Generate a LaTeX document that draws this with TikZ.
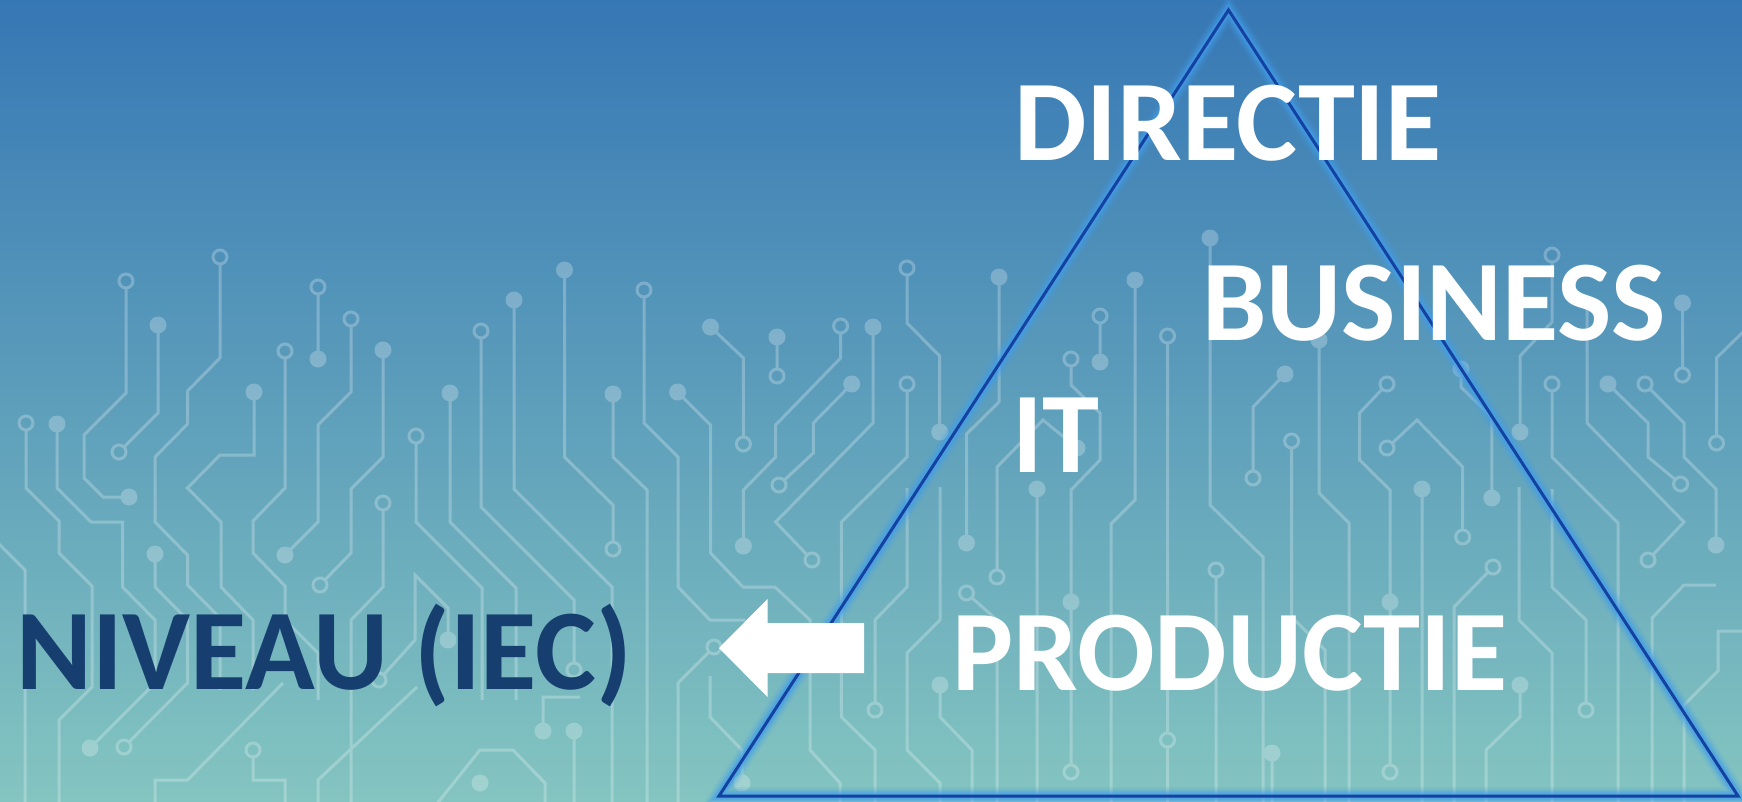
\documentclass[tikz,border=0pt]{standalone}
\usepackage{fontspec}
\newfontfamily\carl{Carlito}
\definecolor{bgtop}{RGB}{54,119,181}
\definecolor{bgbot}{RGB}{132,197,193}
\definecolor{navy}{RGB}{22,63,112}
\definecolor{glowc}{RGB}{66,158,234}
\definecolor{coreblue}{RGB}{20,66,162}
\newcommand\bigfont{\carl\bfseries\fontsize{115}{130}\selectfont}
\newcommand\rg[2]{\draw[draw=white, line width=3pt] (#1,#2) circle[radius=7];}
\newcommand\dt[2]{\fill[fill=white] (#1,#2) circle[radius=8.5];}
\tikzset{
  tr/.style={draw=white, line width=3pt},
  sr/.style={shorten <=7pt},
  er/.style={shorten >=7pt},
  txt/.style={anchor=base, inner sep=0pt, font=\bigfont, text=white},
}
\begin{document}
\begin{tikzpicture}[x=1pt,y=-1pt]
\useasboundingbox (0,0) rectangle (1742,801);
\clip (0,0) rectangle (1742,801);
\shade[top color=bgtop, bottom color=bgbot] (0,0) rectangle (1742,801);

% circuit pattern
\begin{scope}[transparency group, opacity=0.25]
\begin{scope}[color=white]
% left part
\draw[tr,sr] (26,423) -- (26,488) -- (59,521) -- (59,553) -- (92,586) -- (92,687) -- (59,720) -- (59,810); \rg{26}{423}
\draw[tr] (57,424) -- (57,488) -- (91,522) -- (122.5,522) -- (122.5,587) -- (155,620) -- (155,683) -- (90,748); \dt{57}{424} \dt{90}{748}
\draw[tr] (-5,540) -- (25,570) -- (25,810);
\draw[tr,sr] (126,281) -- (126,393) -- (84,435) -- (84,478) -- (103,497) -- (129,497); \rg{126}{281} \dt{129}{497}
\draw[tr,er] (158,325) -- (158,413) -- (119,452); \dt{158}{325} \rg{119}{452}
\draw[tr,sr] (220,257) -- (220,358) -- (187.5,391) -- (187.5,424) -- (155,457) -- (155,522) -- (187.5,555) -- (187.5,585) -- (220,618) -- (220,690); \rg{220}{257}
\draw[tr,er] (155,554) -- (155,587) -- (187.5,620) -- (187.5,683) -- (124,747); \dt{155}{554} \rg{124}{747}
\draw[tr] (254,392) -- (254,455) -- (220,455) -- (187.5,488) -- (221,522) -- (221,587) -- (253,620) -- (253,690); \dt{254}{392}
\draw[tr,sr] (253,750) -- (253,780) -- (285,780) -- (285,810); \rg{253}{750}
\draw[tr,sr] (285,351) -- (285,488) -- (253,521) -- (253,553) -- (285,586) -- (285,620) -- (318,653) -- (318,700); \rg{285}{351}
\draw[tr,sr] (318,287) -- (318,359); \rg{318}{287} \dt{318}{359}
\draw[tr,sr] (351,319) -- (351,392) -- (318,425) -- (318,522) -- (285,555); \rg{351}{319} \dt{285}{555}
\draw[tr,er] (383,350) -- (383,457) -- (351,489) -- (351,553) -- (320,585); \dt{383}{350} \rg{320}{585}
\draw[tr,sr] (383,503) -- (383,587) -- (351,620) -- (351,810); \rg{383}{503}
\draw[tr,sr] (416,436) -- (416,522) -- (482,588) -- (482,700); \rg{416}{436}
\draw[tr] (450,393) -- (450,522) -- (516,588) -- (516,700); \dt{450}{393}
\draw[tr,sr,er] (481,331) -- (481,507) -- (574,600) -- (574,670); \rg{481}{331} \rg{574}{670}
\draw[tr] (543,731) -- (543,697) -- (580,697); \dt{543}{731}
\draw[tr] (574,731) -- (574,810); \dt{574}{731}
\draw[tr] (514,300) -- (514,489) -- (612,587) -- (612,810); \dt{514}{300}
\draw[tr,er] (564.5,270) -- (564.5,457) -- (613,505) -- (613,549); \dt{564.5}{270} \rg{613}{549}
\draw[tr] (613,394) -- (613,457) -- (647,490) -- (647,810); \dt{613}{394}
\draw[tr,sr] (644,290) -- (644,423) -- (678,457) -- (678,587) -- (710,620) -- (745,620); \rg{644}{290}
\draw[tr,sr] (714,647) -- (678,683) -- (678,810); \rg{714}{647}
\draw[tr] (710,676) -- (710,717) -- (742,750) -- (742,783); \dt{742}{783}
\draw[tr] (432,810) -- (480,750) -- (513,750) -- (545,783) -- (545,810); \dt{480}{783}
\draw[tr] (155,810) -- (155,780) -- (187.5,780) -- (283,683);
\draw[tr] (318,810) -- (318,780) -- (417,687);
\draw[tr,sr] (379,680) -- (415,640) -- (415,575) -- (448,608) -- (448,640); \rg{379}{680} \dt{448}{640}
% centre part
\draw[tr,er] (710.5,327) -- (743.4,358) -- (743.4,444); \dt{710.5}{327} \rg{743.4}{444}
\draw[tr] (677.6,392) -- (710.5,425) -- (710.5,553) -- (743,587) -- (775,587) -- (810,620) -- (810,750) -- (840,783) -- (840,810); \dt{677.6}{392}
\draw[tr,er] (777,337) -- (777,376); \dt{777}{337} \rg{777}{376}
\draw[tr,sr] (840.6,326) -- (840.6,358) -- (775.6,425) -- (775.6,457) -- (743.4,490) -- (743.4,546); \rg{840.6}{326} \dt{743.4}{546}
\draw[tr,er] (851.7,384) -- (813.4,423) -- (813.4,453) -- (779,485); \dt{851.7}{384} \rg{779}{485}
\draw[tr,er] (873,327) -- (873,423) -- (775.6,522) -- (812,560); \dt{873}{327} \rg{812}{560}
\draw[tr,sr] (907,268) -- (907,323) -- (939.7,356) -- (939.7,432); \rg{907}{268} \dt{939.7}{432}
\draw[tr,sr] (907,384) -- (907,457) -- (841.4,522) -- (841.4,717) -- (875,750) -- (875,810); \rg{907}{384}
\draw[tr] (999,277) -- (999,402) -- (966.5,434) -- (966.5,543); \dt{999}{277} \dt{966.5}{543}
\draw[tr,er] (907,488) -- (907,587) -- (875,620) -- (875,710); \rg{875}{710}
\draw[tr] (940,487) -- (940,620) -- (907,653) -- (907,750) -- (940,783) -- (940,810);
\draw[tr] (940,685) -- (940,717) -- (972,750) -- (972,810); \dt{940}{685}
\draw[tr] (1135,280) -- (1135,500) -- (1111,524) -- (1111,810); \dt{1135}{280}
\draw[tr,sr] (1100,316) -- (1100,362); \rg{1100}{316} \dt{1100}{362}
\draw[tr,sr,er] (1071,359) -- (1071,385) -- (1100,413) -- (1100,460) -- (1071,490) -- (1071,772); \rg{1071}{359} \rg{1071}{772} \dt{1071}{602}
\draw[tr,sr,er] (1167.5,336) -- (1167.5,740); \rg{1167.5}{336} \rg{1167.5}{740}
\draw[tr,sr] (1167.5,740) -- (1167.5,810);
\draw[tr] (1037,489) -- (1037,810); \dt{1037}{489}
\draw[tr,sr] (997,577) -- (997,467) -- (1043,420) -- (1077,448); \rg{997}{577} \dt{1077}{448}
\draw[tr,sr] (966.5,593) -- (997,620) -- (997,810); \rg{966.5}{593}
% right part
\draw[tr] (1210,238) -- (1210,505) -- (1263,557) -- (1263,810); \dt{1210}{238}
\draw[tr] (1319,340) -- (1319,493) -- (1349,523) -- (1349,810); \dt{1319}{340}
\draw[tr,er] (1285,374) -- (1253,407) -- (1253,478); \dt{1285}{374} \rg{1253}{478}
\draw[tr,sr] (1291.6,441) -- (1291.6,617) -- (1325,650) -- (1325,810); \rg{1291.6}{441}
\draw[tr,sr,er] (1387,384) -- (1359.6,413) -- (1359.6,460) -- (1390,490) -- (1390,772); \rg{1387}{384} \rg{1390}{772} \dt{1390}{602}
\draw[tr,sr,er] (1387,448) -- (1417,420) -- (1462.7,467) -- (1462.7,537); \rg{1387}{448} \rg{1462.7}{537}
\draw[tr] (1422,489) -- (1422,810); \dt{1422}{489}
\draw[tr] (1461,369) -- (1461,387) -- (1491.8,417) -- (1491.8,498); \dt{1461}{369} \dt{1491.8}{498}
\draw[tr,er] (1520,432) -- (1520,356) -- (1552,322) -- (1552,255); \dt{1520}{432} \rg{1552}{255}
\draw[tr,sr] (1552,384) -- (1552,457) -- (1618,523) -- (1618,810); \rg{1552}{384}
\draw[tr,er] (1587,297) -- (1587,423) -- (1684,522) -- (1648,560); \rg{1648}{560}
\draw[tr,er] (1608,384) -- (1648,423) -- (1648,457) -- (1680.6,484); \dt{1608}{384} \rg{1680.6}{484}
\draw[tr,sr] (1645,384) -- (1684,423) -- (1684,457) -- (1716,489) -- (1716,545); \rg{1645}{384} \dt{1716}{545}
\draw[tr,er] (1682.5,303) -- (1682.5,375); \dt{1682.5}{303} \rg{1682.5}{375}
\draw[tr,sr] (1716.5,443) -- (1716.5,358) -- (1745,330); \rg{1716.5}{443}
\draw[tr] (1519,487) -- (1519,620) -- (1552,653) -- (1552,810);
\draw[tr,er] (1552,489) -- (1552,587) -- (1586,620) -- (1586,710); \rg{1586}{710}
\draw[tr,sr] (1493,567) -- (1454,607) -- (1454,810); \rg{1493}{567}
\draw[tr,sr] (1216,570) -- (1216,810); \rg{1216}{570}
\draw[tr] (1520,685) -- (1520,717) -- (1486,750) -- (1486,810); \dt{1520}{685}
\draw[tr] (1716,585) -- (1684,585) -- (1652,618) -- (1652,810);
\draw[tr] (1745,631) -- (1718,631) -- (1718,671) -- (1684,705) -- (1684,810);
\draw[tr] (1272,753) -- (1272,810); \dt{1272}{753}
\end{scope}
\end{scope}

% triangle with glow
\coordinate (apex) at (1228.5,10);
\coordinate (bl) at (719,796);
\coordinate (br) at (1738,796);
\foreach \w/\o in {18/0.14,14/0.2,10/0.3,7/0.45} {
  \draw[line width=\w pt, draw=glowc, opacity=\o, line join=miter] (apex) -- (bl) -- (br) -- cycle;
}
\draw[line width=3pt, draw=coreblue, line join=miter] (apex) -- (bl) -- (br) -- cycle;

% block arrow
\coordinate (tip) at (719,648);
\fill[white] (tip) -- (767.5,599) -- (767.5,623) -- (864,623) -- (864,673) -- (767.5,673) -- (767.5,697) -- cycle;

% texts
\node[txt] (dir) at (1228,160) {DIRECTIE};
\node[txt] (bus) at (1434,340) {BUSINESS};
\node[txt] (it) at (1056,472) {IT};
\node[txt] (prod) at (1230,690) {PRODUCTIE};
\node[txt, text=navy] (niv) at (324,689) {NIVEAU (IEC)};
\end{tikzpicture}
\end{document}
